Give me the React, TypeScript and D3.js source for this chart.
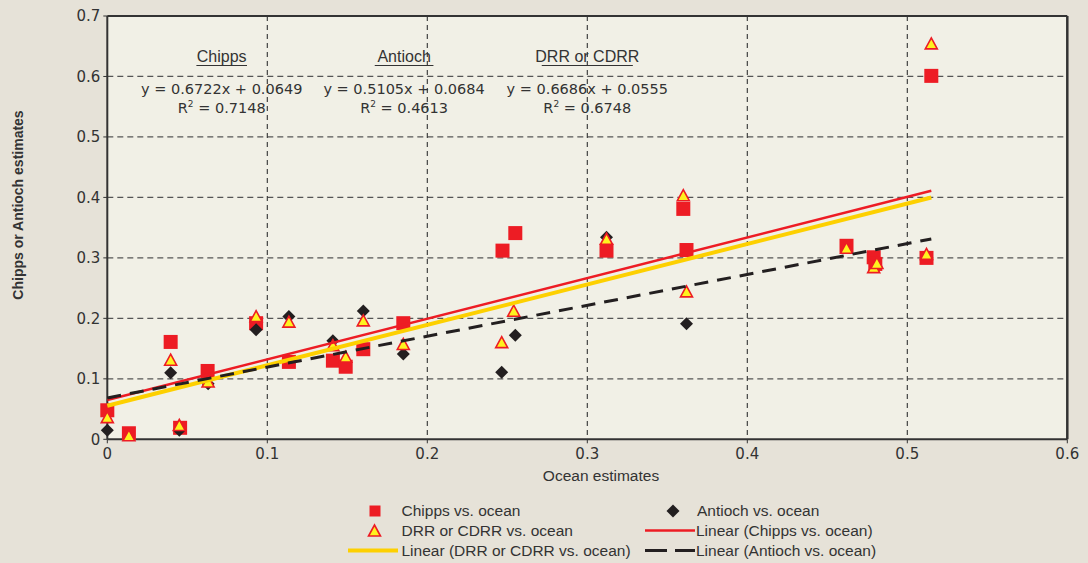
import React from "react";
import * as d3 from "d3";

const chippsX = [0, 0.0135, 0.0396, 0.0455, 0.0627, 0.093, 0.1135, 0.141, 0.149, 0.16, 0.185, 0.247, 0.255, 0.312, 0.36, 0.362, 0.462, 0.479, 0.48, 0.512, 0.515];
const chippsY = [0.048, 0.01, 0.161, 0.019, 0.113, 0.192, 0.128, 0.13, 0.12, 0.149, 0.192, 0.312, 0.341, 0.312, 0.381, 0.313, 0.32, 0.301, 0.29, 0.3, 0.601];

const antiochX = [0, 0.0396, 0.045, 0.063, 0.093, 0.1135, 0.141, 0.16, 0.185, 0.2465, 0.255, 0.312, 0.362];
const antiochY = [0.015, 0.11, 0.015, 0.092, 0.181, 0.203, 0.163, 0.212, 0.141, 0.111, 0.172, 0.334, 0.191];

const drrX = [0, 0.0135, 0.0396, 0.045, 0.063, 0.093, 0.1135, 0.141, 0.149, 0.16, 0.185, 0.2465, 0.254, 0.312, 0.36, 0.362, 0.462, 0.479, 0.481, 0.512, 0.515];
const drrY = [0.035, 0.005, 0.13, 0.022, 0.094, 0.202, 0.193, 0.154, 0.135, 0.195, 0.156, 0.159, 0.211, 0.33, 0.402, 0.243, 0.315, 0.283, 0.29, 0.305, 0.653];

const xTicks = [0, 0.1, 0.2, 0.3, 0.4, 0.5, 0.6];
const yTicks = [0, 0.1, 0.2, 0.3, 0.4, 0.5, 0.6, 0.7];

const fits = [
  { name: "Chipps", slope: 0.6722, intercept: 0.0649, eq: "y = 0.6722x + 0.0649", r2: "0.7148", cx: 0.0715 },
  { name: "Antioch", slope: 0.5105, intercept: 0.0684, eq: "y = 0.5105x + 0.0684", r2: "0.4613", cx: 0.1855 },
  { name: "DRR or CDRR", slope: 0.6686, intercept: 0.0555, eq: "y = 0.6686x + 0.0555", r2: "0.6748", cx: 0.3 },
];
const fitXMin = 0;
const fitXMax = 0.515;

const RED = "#ed1c24";
const YELLOW = "#fdd000";
const TRI_FILL = "#fff21f";
const BLACK = "#231f20";
const FONT = "'Liberation Sans', Arial, sans-serif";
const NUMFONT = "'DejaVu Sans', sans-serif";

export default function App() {
  const W = 1088, H = 563;
  const x = d3.scaleLinear().domain([0, 0.6]).range([107.3, 1067.3]);
  const y = d3.scaleLinear().domain([0, 0.7]).range([439.3, 16]);
  const line = d3.line<[number, number]>().x(d => x(d[0])).y(d => y(d[1]));
  const fitPath = (s: number, b: number) => line([[fitXMin, s * fitXMin + b], [fitXMax, s * fitXMax + b]]) || "";

  const sq = 7;
  const tri = (cx: number, cy: number) => `M${cx},${cy - 6.5}L${cx + 6},${cy + 4.5}L${cx - 6},${cy + 4.5}Z`;
  const dia = (cx: number, cy: number) => `M${cx},${cy - 6.5}L${cx + 6.5},${cy}L${cx},${cy + 6.5}L${cx - 6.5},${cy}Z`;

  return (
    <svg width={W} height={H} style={{ position: "absolute", left: 0, top: 0 }} fontFamily={FONT}>
      <rect x={0} y={0} width={W} height={H} fill="#e6e2d8" />
      <rect x={x(0)} y={y(0.7)} width={x(0.6) - x(0)} height={y(0) - y(0.7)} fill="#f1f0e6" />
      {yTicks.filter(t => t > 0 && t < 0.7).map(t => (
        <line key={"hy" + t} x1={x(0)} x2={x(0.6)} y1={y(t)} y2={y(t)} stroke="#555" strokeWidth={1.3} strokeDasharray="6,4" />
      ))}
      {xTicks.filter(t => t > 0 && t < 0.6).map(t => (
        <line key={"vx" + t} x1={x(t)} x2={x(t)} y1={y(0.7)} y2={y(0)} stroke="#333" strokeWidth={1.1} strokeDasharray="5,4" />
      ))}
      <line x1={x(0)} x2={x(0.6)} y1={y(0.7)} y2={y(0.7)} stroke="#333" strokeWidth={2} />
      <line x1={x(0.6)} x2={x(0.6)} y1={y(0.7)} y2={y(0)} stroke="#333" strokeWidth={2.5} />
      <line x1={x(0)} x2={x(0)} y1={y(0.7)} y2={y(0)} stroke="#333" strokeWidth={2} />
      <line x1={x(0)} x2={x(0.6)} y1={y(0)} y2={y(0)} stroke="#333" strokeWidth={2} />
      {yTicks.map(t => (
        <g key={"yt" + t}>
          <line x1={x(0) - 4} x2={x(0)} y1={y(t)} y2={y(t)} stroke="#333" strokeWidth={1} />
          <text x={x(0) - 7} y={y(t)} dy="0.35em" textAnchor="end" fontSize={15} fill="#333" fontFamily={NUMFONT}>{t === 0 ? "0" : t.toFixed(1)}</text>
        </g>
      ))}
      {xTicks.map(t => (
        <g key={"xt" + t}>
          <line x1={x(t)} x2={x(t)} y1={y(0)} y2={y(0) + 4} stroke="#333" strokeWidth={1} />
          <text x={x(t)} y={y(0) + 20} textAnchor="middle" fontSize={15} fill="#333" fontFamily={NUMFONT}>{t === 0 ? "0" : t.toFixed(1)}</text>
        </g>
      ))}
      <text x={601} y={481} textAnchor="middle" fontSize={15.5} fill="#333">Ocean estimates</text>
      <text transform={`translate(23,205) rotate(-90)`} textAnchor="middle" fontSize={14} fontWeight="bold" fill="#333">Chipps or Antioch estimates</text>

      {fits.map(f => {
        const cx = x(f.cx);
        return (
          <g key={f.name} fill="#333" fontSize={14.5}>
            <text x={cx} y={62} textAnchor="middle" fontSize={16}>{f.name}</text>
            <text x={cx} y={94} textAnchor="middle" fontFamily={NUMFONT}>{f.eq}</text>
            <text x={cx} y={113} textAnchor="middle" fontFamily={NUMFONT}>R<tspan fontSize={9} dy={-6}>2</tspan><tspan dy={6}> = {f.r2}</tspan></text>
          </g>
        );
      })}
      {fits.map(f => {
        const w = f.name.length * 8.1 + 2;
        const cx = x(f.cx);
        return <line key={"u" + f.name} x1={cx - w / 2} x2={cx + w / 2} y1={65.5} y2={65.5} stroke="#333" strokeWidth={1} />;
      })}

      {chippsX.map((v, i) => (
        <rect key={"c" + i} x={x(v) - sq} y={y(chippsY[i]) - sq} width={sq * 2} height={sq * 2} fill={RED} />
      ))}
      {antiochX.map((v, i) => (
        <path key={"a" + i} d={dia(x(v), y(antiochY[i]))} fill={BLACK} />
      ))}
      {drrX.map((v, i) => (
        <path key={"d" + i} d={tri(x(v), y(drrY[i]))} fill={TRI_FILL} stroke={RED} strokeWidth={1.6} />
      ))}

      <path d={fitPath(fits[0].slope, fits[0].intercept)} stroke={RED} strokeWidth={2.5} fill="none" />
      <path d={fitPath(fits[2].slope, fits[2].intercept)} stroke={YELLOW} strokeWidth={4} fill="none" />
      <path d={fitPath(fits[1].slope, fits[1].intercept)} stroke={BLACK} strokeWidth={3} fill="none" strokeDasharray="14,9" />

      <g fontSize={15.5} fill="#333">
        <rect x={369.5} y={505.5} width={11} height={11} fill={RED} />
        <text x={401.5} y={516}>Chipps vs. ocean</text>
        <path d={dia(673, 511)} fill={BLACK} />
        <text x={697} y={516}>Antioch vs. ocean</text>
        <path d={tri(374.5, 531.5)} fill={TRI_FILL} stroke={RED} strokeWidth={1.6} />
        <text x={401.5} y={536}>DRR or CDRR vs. ocean</text>
        <line x1={645} x2={695} y1={530.5} y2={530.5} stroke={RED} strokeWidth={2.5} />
        <text x={696} y={536}>Linear (Chipps vs. ocean)</text>
        <line x1={348} x2={398} y1={550.5} y2={550.5} stroke={YELLOW} strokeWidth={4} />
        <text x={401.5} y={556}>Linear (DRR or CDRR vs. ocean)</text>
        <line x1={645} x2={695} y1={550.5} y2={550.5} stroke={BLACK} strokeWidth={3} strokeDasharray="22,8" />
        <text x={696} y={556}>Linear (Antioch vs. ocean)</text>
      </g>
    </svg>
  );
}
